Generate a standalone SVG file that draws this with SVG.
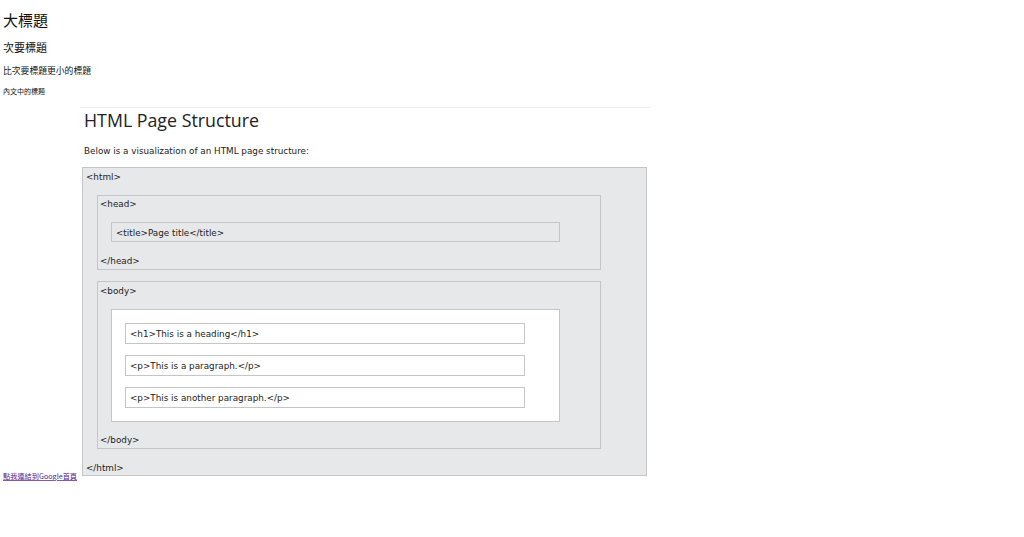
<svg xmlns="http://www.w3.org/2000/svg" width="1024" height="537" viewBox="0 0 1024 537">
<style>
.cjk{font-family:"Noto Sans CJK TC","Noto Sans CJK SC",sans-serif;fill:#111}
.box{fill:#e7e8ea;stroke:#c4c5c7;stroke-width:1}
.wbox{fill:#ffffff;stroke:#c4c5c7;stroke-width:1}
.code{font-family:"DejaVu Sans",Verdana,sans-serif;font-size:8.8px;fill:#222}
.title{font-family:"Open Sans","Noto Sans",sans-serif;font-size:17.8px;fill:#222}
.sub{font-family:"DejaVu Sans",Verdana,sans-serif;font-size:8.8px;fill:#222}
</style>
<rect width="1024" height="537" fill="#ffffff"/>
<g id="headings">
<text class="cjk" x="3" y="26" font-size="15">大標題</text>
<text class="cjk" x="3" y="52" font-size="11">次要標題</text>
<text class="cjk" x="3" y="74" font-size="8.8">比次要標題更小的標題</text>
<text class="cjk" x="3" y="94" font-size="7">內文中的標題</text>
</g>
<g id="link">
<text x="3" y="479" font-size="7.2" fill="#551a8b" text-decoration="underline" style="font-family:'Noto Sans CJK TC','Noto Sans CJK SC',sans-serif">點我連結到Google首頁</text>
</g>
<g id="header">
<line x1="80" y1="107.5" x2="650" y2="107.5" stroke="#eeeeee" stroke-width="1"/>
<text class="title" x="84" y="127">HTML Page Structure</text>
<text class="sub" x="84" y="154">Below is a visualization of an HTML page structure:</text>
</g>
<g id="html">
<rect class="box" x="82.5" y="167.5" width="564" height="308"/>
<text class="code" x="86" y="180">&lt;html&gt;</text>
<text class="code" x="86" y="471">&lt;/html&gt;</text>
</g>
<g id="head">
<rect class="box" x="97.5" y="195.5" width="503" height="74"/>
<text class="code" x="100" y="207">&lt;head&gt;</text>
<text class="code" x="100" y="264">&lt;/head&gt;</text>
</g>
<g id="title">
<rect class="box" x="111.5" y="222.5" width="448" height="19"/>
<text class="code" x="116" y="236">&lt;title&gt;Page title&lt;/title&gt;</text>
</g>
<g id="body">
<rect class="box" x="97.5" y="281.5" width="503" height="167"/>
<text class="code" x="100" y="294">&lt;body&gt;</text>
<text class="code" x="100" y="443">&lt;/body&gt;</text>
</g>
<g id="content">
<rect class="wbox" x="111.5" y="309.5" width="448" height="112"/>
</g>
<g id="h1">
<rect class="wbox" x="125.5" y="323.5" width="399" height="20"/>
<text class="code" x="130" y="337">&lt;h1&gt;This is a heading&lt;/h1&gt;</text>
</g>
<g id="p1">
<rect class="wbox" x="125.5" y="355.5" width="399" height="20"/>
<text class="code" x="130" y="369">&lt;p&gt;This is a paragraph.&lt;/p&gt;</text>
</g>
<g id="p2">
<rect class="wbox" x="125.5" y="387.5" width="399" height="20"/>
<text class="code" x="130" y="401">&lt;p&gt;This is another paragraph.&lt;/p&gt;</text>
</g>
<g id="connectors"></g>
</svg>
